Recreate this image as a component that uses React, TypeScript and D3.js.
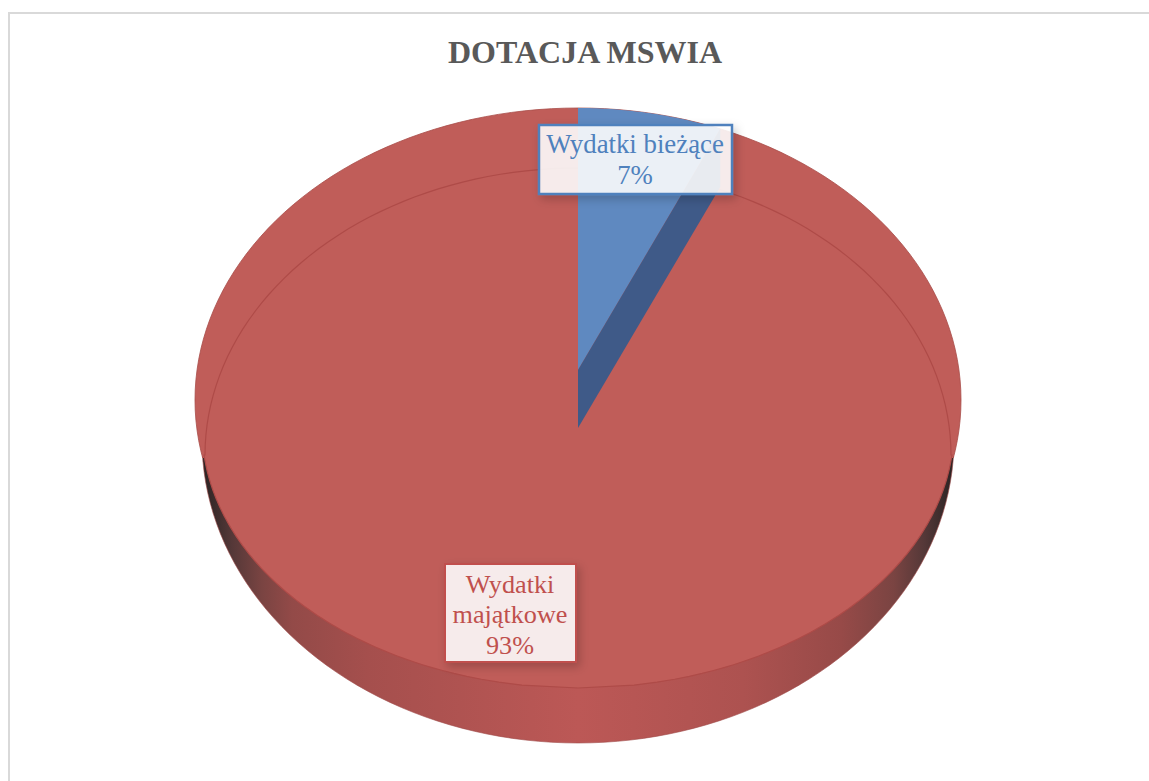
import React from "react";
import * as d3 from "d3";

const categories = ["Wydatki bieżące", "Wydatki majątkowe"];
const seriesValues = [7, 93];
const sliceColors = ["#5f89c0", "#c05d59"];
const wallColor = "#3f5a88";
const chartTitle = "DOTACJA MSWIA";

const W = 1149, H = 781;
const cx = 578;
const FORESHORTEN = 0.85;
type Ell = { cy: number; rx: number; ry: number };
const top: Ell = { cy: 400, rx: 383, ry: 292 };
const ringUpper: Ell = { cy: 455, rx: 373, ry: 287 };
const ringLower: Ell = { cy: 428, rx: 376, ry: 260 };
const bottom: Ell = { cy: 440, rx: 376, ry: 303 };
const hinge = { tipY: 370, wallTipY: 428 };
const rimY = 458;

const onEllipse = (e: Ell, deg: number) =>
  [cx + e.rx * Math.sin((deg * Math.PI) / 180), e.cy - e.ry * Math.cos((deg * Math.PI) / 180)] as [number, number];

function ellipsePath(e: Ell) {
  return d3.line()(d3.range(0, 361, 2).map((a) => onEllipse(e, a))) + "Z";
}

function ringPath() {
  const upper = d3.range(-90, 91, 2).map((a) => onEllipse(ringUpper, a));
  const ys = d3.range(ringUpper.cy, ringLower.cy + ringLower.ry + 0.01, (ringLower.cy + ringLower.ry - ringUpper.cy) / 80);
  const dx = (y: number) => ringLower.rx * Math.sqrt(Math.max(0, 1 - ((y - ringLower.cy) / ringLower.ry) ** 2));
  const right = ys.map((y) => [cx + dx(y), y] as [number, number]);
  const left = ys.slice().reverse().map((y) => [cx - dx(y), y] as [number, number]);
  return d3.line()([...upper, ...right, ...left]) + "Z";
}

export default function App() {
  const arcs = d3.pie<number>().sort(null)(seriesValues);
  const project = (a: number) => Math.atan(Math.tan(a) * FORESHORTEN);
  const end = project(arcs[0].endAngle);
  const rimPts = d3.range(0, 41).map((i) => onEllipse(top, (((end * i) / 40) * 180) / Math.PI));
  const corner = rimPts[rimPts.length - 1];
  const line = d3.line();
  const bluePath = line([[cx, hinge.tipY], ...rimPts]) + "Z";
  const drop = hinge.wallTipY - hinge.tipY;
  const wallPath = line([[cx, hinge.tipY], [cx, hinge.wallTipY], [corner[0], corner[1] + drop], corner]) + "Z";

  return (
    <svg width={W} height={H} style={{ position: "absolute", left: 0, top: 0, display: "block" }}>
      <defs>
        <linearGradient id="side" gradientUnits="userSpaceOnUse" x1={cx - bottom.rx} x2={cx + bottom.rx} y1="0" y2="0">
          <stop offset="0" stopColor="#2a2323" />
          <stop offset="0.04" stopColor="#553838" />
          <stop offset="0.08" stopColor="#7a4442" />
          <stop offset="0.12" stopColor="#934a48" />
          <stop offset="0.22" stopColor="#a54f4d" />
          <stop offset="0.5" stopColor="#bc5856" />
          <stop offset="0.72" stopColor="#ad5250" />
          <stop offset="0.85" stopColor="#974a48" />
          <stop offset="0.92" stopColor="#7a4442" />
          <stop offset="0.96" stopColor="#553838" />
          <stop offset="1" stopColor="#2a2323" />
        </linearGradient>
        <clipPath id="above"><rect x="0" y="0" width={W} height={rimY} /></clipPath>
        <clipPath id="below"><rect x="0" y={rimY - 2} width={W} height={H} /></clipPath>
        <filter id="shadow1" x="-15%" y="-25%" width="130%" height="160%">
          <feDropShadow dx="3" dy="4" stdDeviation="5" floodColor="#000" floodOpacity="0.22" />
        </filter>
      </defs>
      <rect x={0} y={0} width={W} height={H} fill="#fff" />
      <line x1={9} x2={W} y1={13} y2={13} stroke="#d9d9d9" strokeWidth="2" />
      <line x1={9} x2={9} y1={12} y2={H} stroke="#d9d9d9" strokeWidth="2" />
      <text x={585} y={63} textAnchor="middle" fontFamily="'Liberation Serif', serif" fontWeight="bold" fontSize="32" fill="#595959">
        {chartTitle}
      </text>
      <path d={ellipsePath(bottom)} clipPath="url(#below)" fill="url(#side)" stroke="#a04a48" strokeWidth="0.6" />
      <path d={ellipsePath(top)} clipPath="url(#above)" fill={sliceColors[1]} stroke="#a84c49" strokeWidth="0.8" />
      <path d={ringPath()} fill={sliceColors[1]} stroke="#ae4b48" strokeWidth="1.2" />
      <path d={bluePath} fill={sliceColors[0]} />
      <path d={wallPath} fill={wallColor} />
      <g filter="url(#shadow1)">
        <rect x={539} y={125} width={193} height={69} fill="#fff" fillOpacity="0.87" stroke="#4f81bd" strokeWidth="2.5" />
      </g>
      <text textAnchor="middle" fontFamily="'Liberation Serif', serif" fontSize="26.8" fill="#4f81bd">
        <tspan x={635} y={153}>{categories[0]}</tspan>
        <tspan x={635} y={184}>{d3.format(".0f")(seriesValues[0])}%</tspan>
      </text>
      <g filter="url(#shadow1)">
        <rect x={445} y={564} width={131} height={98} fill="#fff" fillOpacity="0.87" stroke="#c0504d" strokeWidth="2" />
      </g>
      <text textAnchor="middle" fontFamily="'Liberation Serif', serif" fontSize="26.2" fill="#c0504d">
        <tspan x={510} y={593}>{categories[1].split(" ")[0]}</tspan>
        <tspan x={510} y={623}>{categories[1].split(" ")[1]}</tspan>
        <tspan x={510} y={654}>{d3.format(".0f")(seriesValues[1])}%</tspan>
      </text>
    </svg>
  );
}
